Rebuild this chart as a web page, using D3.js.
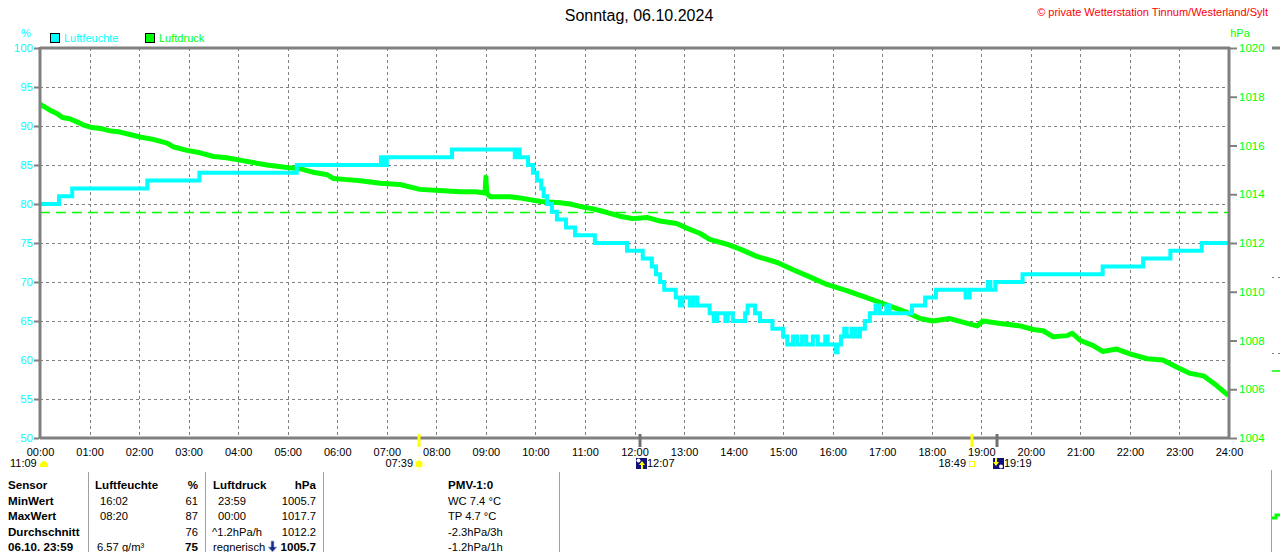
<!DOCTYPE html>
<html>
<head>
<meta charset="utf-8">
<script src="https://cdn.jsdelivr.net/npm/d3@7"></script>
<style>
body { margin: 0; background: #fff; }
svg text { font-family: "Liberation Sans", Arial, sans-serif; }
</style>
</head>
<body>
<svg width="1280" height="552"></svg>
<script>
// Luftfeuchte (%), Zeit in Minuten seit 00:00
var humMin = [0, 23, 39, 130, 193, 311, 413, 417, 420, 499, 575, 579, 581, 591, 597, 602, 607, 610, 614, 620,
  626, 637, 648, 672, 711, 730, 741, 746, 751, 756, 770, 775, 778, 787, 791, 796, 811, 816, 820, 830,
  833, 839, 854, 857, 866, 872, 887, 900, 905, 912, 917, 923, 928, 936, 942, 951, 954, 964, 966, 970,
  974, 977, 983, 988, 993, 999, 1005, 1012, 1017, 1025, 1029, 1056, 1072, 1085, 1121, 1126, 1148, 1151, 1157, 1190,
  1287, 1336, 1369, 1407, 1440];
var humVal = [80, 81, 82, 83, 84, 85, 86, 85, 86, 87, 86, 87, 86, 85, 84, 83, 82, 81, 80, 79,
  78, 77, 76, 75, 74, 73, 72, 71, 70, 69, 68, 67, 68, 67, 68, 67, 66, 65, 66, 65,
  66, 65, 66, 67, 66, 65, 64, 63, 62, 63, 62, 63, 62, 63, 62, 63, 62, 61, 62, 63,
  64, 63, 64, 63, 64, 65, 66, 67, 66, 67, 66, 67, 68, 69, 68, 69, 70, 69, 70, 71,
  72, 73, 74, 75, 75];

// Luftdruck (hPa)
var presMin = [0, 12, 21, 27, 36, 46, 52, 61, 73, 85, 97, 109, 121, 137, 154, 161, 178, 194, 210, 226,
  242, 258, 275, 299, 315, 331, 348, 355, 372, 388, 412, 436, 460, 484, 509, 527, 539, 540, 541, 545,
  569, 581, 606, 630, 642, 654, 670, 687, 702, 718, 735, 751, 771, 784, 799, 811, 832, 848, 868, 893,
  912, 933, 953, 977, 1002, 1026, 1050, 1066, 1081, 1102, 1123, 1135, 1142, 1163, 1187, 1203, 1215, 1227, 1244, 1250,
  1260, 1275, 1287, 1304, 1320, 1341, 1360, 1377, 1393, 1409, 1425, 1439];
var presVal = [1017.7, 1017.45, 1017.3, 1017.15, 1017.1, 1016.95, 1016.85, 1016.75, 1016.7, 1016.6, 1016.55, 1016.45, 1016.35, 1016.25, 1016.1, 1015.95, 1015.8, 1015.7, 1015.55, 1015.5,
  1015.4, 1015.3, 1015.2, 1015.1, 1015.05, 1014.9, 1014.8, 1014.65, 1014.6, 1014.55, 1014.45, 1014.4, 1014.2, 1014.15, 1014.1, 1014.1, 1014.05, 1014.7, 1014.05, 1013.9,
  1013.9, 1013.85, 1013.7, 1013.65, 1013.6, 1013.5, 1013.4, 1013.25, 1013.1, 1013.0, 1013.05, 1012.9, 1012.8, 1012.6, 1012.4, 1012.15, 1011.95, 1011.75, 1011.45, 1011.2,
  1010.9, 1010.6, 1010.3, 1010.05, 1009.75, 1009.45, 1009.15, 1008.9, 1008.8, 1008.9, 1008.7, 1008.6, 1008.8, 1008.7, 1008.6, 1008.45, 1008.4, 1008.15, 1008.2, 1008.3,
  1008.0, 1007.8, 1007.55, 1007.65, 1007.45, 1007.25, 1007.2, 1006.9, 1006.65, 1006.55, 1006.15, 1005.75];

var normDruck = 1013.25;
var hourTicks = d3.range(0, 25);
var humTicks = d3.range(50, 101, 5);
var presTicks = d3.range(1004, 1021, 2);

// Sonne / Mond
var astro = [
  { label: "11:09", min: null, kind: "moonL" },
  { label: "07:39", min: 459, kind: "sunrise" },
  { label: "12:07", min: 727, kind: "moonrise" },
  { label: "18:49", min: 1129, kind: "sunset" },
  { label: "19:19", min: 1159, kind: "moonset" }
];

// Tabelle
var tabHead = ["Sensor", "Luftfeuchte", "%", "Luftdruck", "hPa", "PMV-1:0"];
var tabMin = ["MinWert", "16:02", "61", "23:59", "1005.7", "WC 7.4 °C"];
var tabMax = ["MaxWert", "08:20", "87", "00:00", "1017.7", "TP 4.7 °C"];
var tabAvg = ["Durchschnitt", "", "76", "^1.2hPa/h", "1012.2", "-2.3hPa/3h"];
var tabNow = ["06.10. 23:59", "6.57 g/m³", "75", "regnerisch", "1005.7", "-1.2hPa/1h"];

var svg = d3.select("svg");
var W = 1280, H = 552;
var x0 = 40, x1 = 1229, yT = 48, yB = 438;
var grey = "#808080", cyan = "#00ffff", green = "#00ff00";

var x = d3.scaleLinear().domain([0, 1440]).range([x0, x1]);
var yH = d3.scaleLinear().domain([50, 100]).range([yB, yT]);
var yP = d3.scaleLinear().domain([1004, 1020]).range([yB, yT]);

// Titel
svg.append("text").attr("x", 639).attr("y", 21).attr("text-anchor", "middle")
  .attr("font-size", 16).attr("fill", "#000").text("Sonntag, 06.10.2024");
svg.append("text").attr("x", 1268).attr("y", 16).attr("text-anchor", "end")
  .attr("font-size", 11).attr("fill", "#ff0000").text("© private Wetterstation Tinnum/Westerland/Sylt");

// Einheiten
svg.append("text").attr("x", 26).attr("y", 37).attr("text-anchor", "middle")
  .attr("font-size", 11).attr("fill", cyan).text("%");
svg.append("text").attr("x", 1240).attr("y", 37).attr("text-anchor", "middle")
  .attr("font-size", 11).attr("fill", green).text("hPa");

// Legende
var legend = [{ name: "Luftfeuchte", col: cyan, x: 50 }, { name: "Luftdruck", col: green, x: 145 }];
legend.forEach(function (l) {
  svg.append("rect").attr("x", l.x + 0.5).attr("y", 33.5).attr("width", 9).attr("height", 9)
    .attr("fill", l.col).attr("stroke", "#000");
  svg.append("text").attr("x", l.x + 14).attr("y", 42).attr("font-size", 11)
    .attr("fill", l.col).text(l.name);
});

// Gitter
var grid = svg.append("g").attr("stroke", grey).attr("stroke-width", 1).attr("stroke-dasharray", "3,3");
grid.selectAll(".v").data(hourTicks.slice(1, 24)).enter().append("line")
  .attr("x1", function (d) { return Math.round(x(d * 60)) + 0.5; })
  .attr("x2", function (d) { return Math.round(x(d * 60)) + 0.5; })
  .attr("y1", yT).attr("y2", yB);
grid.selectAll(".h").data(humTicks.slice(1, 10)).enter().append("line")
  .attr("x1", x0).attr("x2", x1)
  .attr("y1", function (d) { return Math.round(yH(d)) + 0.5; })
  .attr("y2", function (d) { return Math.round(yH(d)) + 0.5; });

// Normaldruck
svg.append("line").attr("x1", x0).attr("x2", x1)
  .attr("y1", yP(normDruck)).attr("y2", yP(normDruck))
  .attr("stroke", green).attr("stroke-width", 1.5).attr("stroke-dasharray", "10,6");

// Linien
var humLine = d3.line().curve(d3.curveStepAfter)
  .x(function (d, i) { return x(humMin[i]); })
  .y(function (d) { return yH(d); });
var presLine = d3.line()
  .x(function (d, i) { return x(presMin[i]); })
  .y(function (d) { return yP(d); });

svg.append("path").attr("d", presLine(presVal)).attr("fill", "none")
  .attr("stroke", green).attr("stroke-width", 5).attr("stroke-linejoin", "round");
svg.append("path").attr("d", humLine(humVal)).attr("fill", "none")
  .attr("stroke", cyan).attr("stroke-width", 4);

// Rahmen
var frame = svg.append("g").attr("stroke", grey).attr("stroke-width", 3).attr("fill", "none");
frame.append("line").attr("x1", x0).attr("x2", x1 + 1).attr("y1", yT).attr("y2", yT);
frame.append("line").attr("x1", x0).attr("x2", x0).attr("y1", yT - 1).attr("y2", yB + 1);
frame.append("line").attr("x1", x1).attr("x2", x1).attr("y1", yT - 1).attr("y2", yB + 1);
frame.append("line").attr("x1", x0).attr("x2", x1 + 1).attr("y1", yB).attr("y2", yB);

// Achsen
var axL = d3.axisLeft(yH).tickValues(humTicks).tickSize(5).tickPadding(1);
var gL = svg.append("g").attr("transform", "translate(" + (x0 - 1) + ",0)").call(axL);
gL.select(".domain").remove();
gL.selectAll("line").attr("stroke", grey).attr("stroke-width", 2);
gL.selectAll("text").attr("fill", cyan).attr("font-size", 11.5).attr("font-family", "Liberation Sans, Arial");

var axR = d3.axisRight(yP).tickValues(presTicks).tickSize(7).tickPadding(2).tickFormat(d3.format("d"));
var gR = svg.append("g").attr("transform", "translate(" + (x1 + 1) + ",0)").call(axR);
gR.select(".domain").remove();
gR.selectAll("line").attr("stroke", grey).attr("stroke-width", 2);
gR.selectAll("text").attr("fill", green).attr("font-size", 11.5).attr("font-family", "Liberation Sans, Arial");

var axB = d3.axisBottom(x).tickValues(hourTicks.map(function (h) { return h * 60; }))
  .tickSize(0).tickPadding(10)
  .tickFormat(function (d) { return d3.format("02d")(d / 60) + ":00"; });
var gB = svg.append("g").attr("transform", "translate(0," + yB + ")").call(axB);
gB.select(".domain").remove();
gB.selectAll("text").attr("fill", "#000").attr("font-size", 11).attr("font-family", "Liberation Sans, Arial");

// Sonne / Mond Marken
var ay = 467;
astro.forEach(function (a) {
  if (a.kind === "moonL") {
    svg.append("text").attr("x", 10).attr("y", ay).attr("font-size", 11).text(a.label);
    svg.append("path").attr("d", "M40,467 L40,464 Q44,458 48,464 L48,467 Z").attr("fill", "#ffff00");
    return;
  }
  var px = Math.round(x(a.min));
  if (a.kind === "sunrise" || a.kind === "sunset") {
    svg.append("line").attr("x1", px).attr("x2", px).attr("y1", 434).attr("y2", 447)
      .attr("stroke", "#ffff00").attr("stroke-width", 3);
    svg.append("text").attr("x", px - 6).attr("y", ay).attr("text-anchor", "end")
      .attr("font-size", 11).text(a.label);
    if (a.kind === "sunrise") {
      svg.append("circle").attr("cx", px).attr("cy", 464).attr("r", 3.5).attr("fill", "#ffff00");
      svg.append("circle").attr("cx", px).attr("cy", 464).attr("r", 5.5).attr("fill", "none")
        .attr("stroke", "#ffff80").attr("stroke-dasharray", "1.5,1.5");
    } else {
      svg.append("rect").attr("x", px - 2.5).attr("y", 461.5).attr("width", 5).attr("height", 5)
        .attr("fill", "none").attr("stroke", "#ffff00");
    }
  } else {
    svg.append("line").attr("x1", px).attr("x2", px).attr("y1", 434).attr("y2", 447)
      .attr("stroke", "#707070").attr("stroke-width", 3);
    var bx = px - 4;
    svg.append("rect").attr("x", bx).attr("y", 458).attr("width", 11).attr("height", 11).attr("fill", "#10107a");
    svg.append("circle").attr("cx", a.kind === "moonrise" ? bx + 2.5 : bx + 8).attr("cy", a.kind === "moonrise" ? 460.5 : 466.5)
      .attr("r", 2).attr("fill", "#fff");
    var arrow = a.kind === "moonrise"
      ? "M" + (bx + 6) + ",461 l-3,4 h2 v4 h2 v-4 h2 Z"
      : "M" + (bx + 3) + ",466 l-3,-4 h2 v-4 h2 v4 h2 Z";
    svg.append("path").attr("d", arrow).attr("fill", "#ffff00");
    svg.append("text").attr("x", bx + 11).attr("y", ay).attr("font-size", 11).text(a.label);
  }
});

// Tabelle
var seps = [88, 205, 323, 559];
svg.selectAll(".sep").data(seps).enter().append("line")
  .attr("x1", function (d) { return d + 0.5; }).attr("x2", function (d) { return d + 0.5; })
  .attr("y1", 472).attr("y2", H).attr("stroke", "#a0a0a0").attr("stroke-width", 1);

var cols = [
  { x: 8, anchor: "start" }, { x: 100, anchor: "start" }, { x: 198, anchor: "end" },
  { x: 218, anchor: "start" }, { x: 316, anchor: "end" }, { x: 448, anchor: "start" }
];
var rows = [tabHead, tabMin, tabMax, tabAvg, tabNow];
rows.forEach(function (r, ri) {
  var yy = 489 + ri * 15.6;
  r.forEach(function (c, ci) {
    if (!c) return;
    var bold = ri === 0 || ci === 0 || (ri === 4 && (ci === 2 || ci === 4));
    var cx = cols[ci].x;
    if (ri === 0 && ci === 1) cx = 95;
    if (ri === 0 && ci === 3) cx = 213;
    if (ri === 3 && ci === 3) cx = 212;
    if (ri === 4 && ci === 1) cx = 97;
    if (ri === 4 && ci === 3) cx = 213;
    svg.append("text").attr("x", cx).attr("y", yy).attr("text-anchor", cols[ci].anchor)
      .attr("font-size", bold ? 11.6 : 11.2).attr("font-weight", bold ? "bold" : "normal").attr("fill", "#000").text(c);
  });
});
// Tendenz-Pfeil
svg.append("path").attr("d", "M271,541 h3 v6 h3 l-4.5,5 l-4.5,-5 h3 Z")
  .attr("fill", "#1a2a8a").attr("stroke", "#b0c0e0").attr("stroke-width", 0.7);

// abgeschnittenes Nachbarfeld rechts
svg.append("line").attr("x1", 1272).attr("x2", 1280).attr("y1", yT).attr("y2", yT).attr("stroke", grey).attr("stroke-width", 3);
svg.append("line").attr("x1", 1271.5).attr("x2", 1271.5).attr("y1", 470).attr("y2", H).attr("stroke", "#a0a0a0");
[277, 353].forEach(function (d) {
  svg.append("line").attr("x1", 1272).attr("x2", 1280).attr("y1", d + 0.5).attr("y2", d + 0.5)
    .attr("stroke", grey).attr("stroke-dasharray", "2,4");
});
svg.append("line").attr("x1", 1272).attr("x2", 1280).attr("y1", 371).attr("y2", 371).attr("stroke", green).attr("stroke-width", 1.5);
svg.append("path").attr("d", "M1272,518 h4 v-3 h4").attr("fill", "none").attr("stroke", green).attr("stroke-width", 3);
</script>
</body>
</html>
